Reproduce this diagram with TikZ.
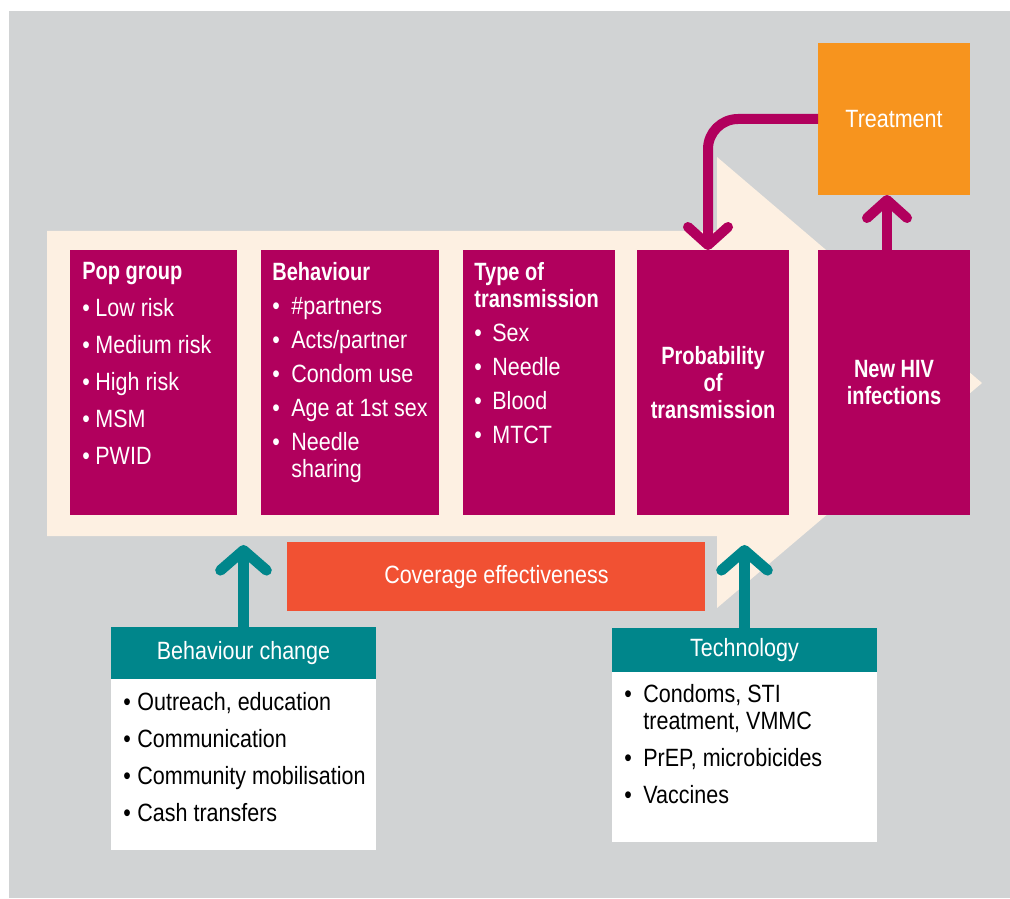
\documentclass[tikz,border=0pt]{standalone}
\usepackage{fontspec}
\setmainfont{Liberation Sans}[FakeStretch=0.86,BoldFeatures={FakeStretch=0.8}]
\usetikzlibrary{arrows.meta,positioning}
\definecolor{bggray}{HTML}{D1D3D4}
\definecolor{cream}{HTML}{FDF0E2}
\definecolor{hivmag}{HTML}{B1005D}
\definecolor{treatorange}{HTML}{F7941E}
\definecolor{covred}{HTML}{F15133}
\definecolor{hivteal}{HTML}{00868B}
\newcommand{\hivfont}{\fontsize{12.5}{13.5}\selectfont}
\newcommand{\itm}[1]{\makebox[#1][l]{\textbullet}}
\tikzset{
	listtext/.style={align=left,anchor=north west,inner sep=0pt},
	headbox/.style={fill=hivteal,text=white,inner sep=0pt,outer sep=0pt,minimum width=132.5pt},
	bodybox/.style={fill=white,inner sep=0pt,outer sep=0pt,minimum width=132.5pt},
}

\begin{document}
\begin{tikzpicture}[x=0.5pt,y=-0.5pt,node distance=12pt,font=\hivfont,
	stage/.style={fill=hivmag,text=white,align=center,inner sep=0pt,outer sep=0pt,minimum width=76pt,minimum height=132.5pt,font=\hivfont\bfseries},
	tealarrow/.style={draw=hivteal,line width=5.3pt,-{Straight Barb[length=10pt,width=23pt,round]}},
	magarrow/.style={draw=hivmag,line width=5pt,-{Straight Barb[length=9pt,width=20pt,round]}}]
	\useasboundingbox (0,0) rectangle (1010,898);
	\fill[bggray] (9,11) rectangle (1010,898);
	% big arrow behind the stages
	\fill[cream] (47,231) -- (717,231) -- (717,157) -- (982,383) -- (717,608) -- (717,536) -- (47,536) -- cycle;

	\node[stage,minimum width=83.5pt,anchor=north west] (pop) at (70,250) {};
	\node[stage,minimum width=89pt] (beh) [right=of pop] {};
	\node[stage] (type) [right=of beh] {};
	\node[stage] (prob) [right=11pt of type] {Probability\\of\\transmission};
	\node[stage] (new) [right=14.5pt of prob] {New HIV\\infections};
	\node[fill=treatorange,text=white,inner sep=0pt,outer sep=0pt,minimum size=76pt] (treat) [above=27.5pt of new] {Treatment};

	\node[listtext,text=white] (poptext) at ([xshift=6pt,yshift=-6pt]pop.north west)
		{\textbf{Pop group}\\[5pt]\itm{6.5pt}Low risk\\[5pt]\itm{6.5pt}Medium risk\\[5pt]\itm{6.5pt}High risk\\[5pt]\itm{6.5pt}MSM\\[5pt]\itm{6.5pt}PWID};
	\node[listtext,text=white] (behtext) at ([xshift=5.5pt,yshift=-6pt]beh.north west)
		{\textbf{Behaviour}\\[3.5pt]\itm{9.5pt}\#partners\\[3.5pt]\itm{9.5pt}Acts/partner\\[3.5pt]\itm{9.5pt}Condom use\\[3.5pt]\itm{9.5pt}Age at 1st sex\\[3.5pt]\itm{9.5pt}Needle\\\hspace*{9.5pt}sharing};
	\node[listtext,text=white] (typetext) at ([xshift=5.5pt,yshift=-6pt]type.north west)
		{\textbf{Type of}\\\textbf{transmission}\\[3.5pt]\itm{9pt}Sex\\[3.5pt]\itm{9pt}Needle\\[3.5pt]\itm{9pt}Blood\\[3.5pt]\itm{9pt}MTCT};

	\node[fill=covred,text=white,inner sep=0pt,minimum width=209pt,minimum height=34.5pt,anchor=north west] (cov) at (287,542) {Coverage effectiveness};

	\node[headbox,minimum height=26pt,anchor=north west] (bchead) at (111,627) {Behaviour change};
	\node[bodybox,minimum height=85.5pt] (bcbody) [below=0pt of bchead] {};
	\node[listtext] (bclist) at ([xshift=6pt,yshift=-6.5pt]bcbody.north west)
		{\itm{7pt}Outreach, education\\[5pt]\itm{7pt}Communication\\[5pt]\itm{7pt}Community mobilisation\\[5pt]\itm{7pt}Cash transfers};

	\node[headbox,minimum height=22pt,anchor=north west] (techhead) at (612,628) {Technology};
	\node[bodybox,minimum height=85pt] (techbody) [below=0pt of techhead] {};
	\node[listtext] (techlist) at ([xshift=6pt,yshift=-6pt]techbody.north west)
		{\itm{9.5pt}Condoms, STI\\\hspace*{9.5pt}treatment, VMMC\\[5pt]\itm{9.5pt}PrEP, microbicides\\[5pt]\itm{9.5pt}Vaccines};

	\coordinate (bctip) at (bchead.north |- 0,545);
	\coordinate (techtip) at (techhead.north |- 0,545);
	\draw[tealarrow] (bchead.north) -- (bctip);
	\draw[tealarrow] (techhead.north) -- (techtip);
	\draw[magarrow] ([xshift=-3.5pt]new.north) -- ([xshift=-3.5pt]treat.south);
	\draw[magarrow,rounded corners=15pt] (treat.west) -| ([xshift=-2.5pt]prob.north);
\end{tikzpicture}
\end{document}
